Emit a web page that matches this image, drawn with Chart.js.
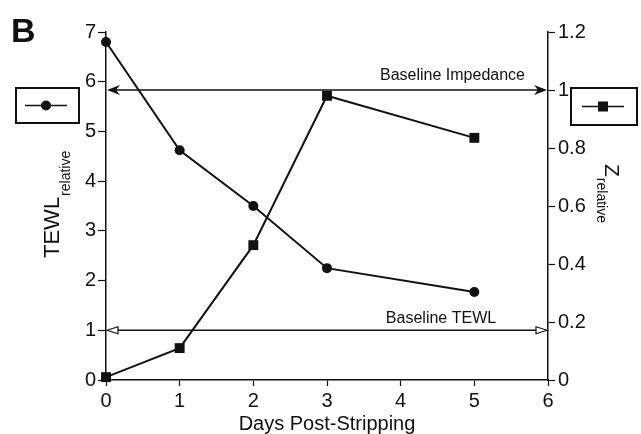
<!DOCTYPE html>
<html>
<head>
<meta charset="utf-8">
<script src="https://cdn.jsdelivr.net/npm/chart.js@4"></script>
<style>
  html, body { margin: 0; padding: 0; background: #fff; }
  #wrap { width: 641px; height: 434px; }
</style>
</head>
<body>
<div id="wrap"><canvas id="chart" width="641" height="434"></canvas></div>
<script>
// data
const days = [0, 1, 2, 3, 5];
const tewlRel = [6.8, 4.62, 3.5, 2.25, 1.77];
const zRel = [0.01, 0.11, 0.465, 0.98, 0.835];
const zTickLabels = ["0", "0.2", "0.4", "0.6", "0.8", "1", "1.2"];
const baselineTewl = 1;
const baselineZ = 1;

const FONT = "'Liberation Sans', Arial, Helvetica, sans-serif";
const INK = "#111";

const pts = (ys) => days.map((d, i) => ({ x: d, y: ys[i] }));

function arrowBarb(ctx, x, y, dir){
  // filled barbed arrow head, tip at x, pointing dir (-1 left, +1 right)
  ctx.beginPath();
  ctx.moveTo(x, y);
  ctx.lineTo(x - dir * 13, y - 5);
  ctx.lineTo(x - dir * 9, y);
  ctx.lineTo(x - dir * 13, y + 5);
  ctx.closePath();
  ctx.fill();
}

function arrowOpen(ctx, x, y, dir){
  ctx.beginPath();
  ctx.moveTo(x, y);
  ctx.lineTo(x - dir * 11, y - 3.5);
  ctx.lineTo(x - dir * 11, y + 3.5);
  ctx.closePath();
  ctx.fillStyle = "#fff";
  ctx.fill();
  ctx.stroke();
}

const extras = {
  id: "extras",
  beforeDatasetsDraw(chart){
    const { ctx, scales } = chart;
    const x0 = scales.x.getPixelForValue(0);
    const x6 = scales.x.getPixelForValue(6);
    ctx.save();
    ctx.strokeStyle = INK;
    ctx.fillStyle = INK;
    ctx.lineWidth = 1.5;

    // Baseline impedance (right axis)
    const yz = scales.y1.getPixelForValue(baselineZ);
    ctx.beginPath();
    ctx.moveTo(x0 + 8, yz);
    ctx.lineTo(x6 - 8, yz);
    ctx.stroke();
    arrowBarb(ctx, x0 + 1, yz, -1);
    arrowBarb(ctx, x6 - 1, yz, 1);

    // Baseline TEWL (left axis)
    const yt = scales.y.getPixelForValue(baselineTewl);
    ctx.beginPath();
    ctx.moveTo(x0 + 12, yt);
    ctx.lineTo(x6 - 12, yt);
    ctx.stroke();
    ctx.lineWidth = 1.2;
    arrowOpen(ctx, x0 + 1, yt, -1);
    arrowOpen(ctx, x6 - 1, yt, 1);

    ctx.fillStyle = INK;
    ctx.font = "16px " + FONT;
    ctx.textBaseline = "alphabetic";
    ctx.textAlign = "right";
    ctx.fillText("Baseline Impedance", 525, 80);
    ctx.textAlign = "center";
    ctx.fillText("Baseline TEWL", 441, 323);
    ctx.restore();
  },
  afterDraw(chart){
    const { ctx } = chart;
    ctx.save();
    ctx.fillStyle = INK;
    ctx.strokeStyle = INK;

    // panel letter
    ctx.font = "bold 34px " + FONT;
    ctx.textAlign = "left";
    ctx.textBaseline = "alphabetic";
    ctx.fillText("B", 11, 42);

    // legend boxes
    ctx.lineWidth = 2;
    ctx.strokeRect(16, 88, 63, 35);
    ctx.strokeRect(571, 88, 66, 37);
    ctx.lineWidth = 1.5;
    ctx.beginPath();
    ctx.moveTo(25, 105.5); ctx.lineTo(67, 105.5);
    ctx.moveTo(582, 106.5); ctx.lineTo(624, 106.5);
    ctx.stroke();
    ctx.beginPath();
    ctx.arc(46, 105.5, 5, 0, Math.PI * 2);
    ctx.fill();
    ctx.fillRect(598, 101.5, 10, 10);

    // left axis title
    ctx.save();
    ctx.translate(59, 258);
    ctx.rotate(-Math.PI / 2);
    ctx.font = "22px " + FONT;
    ctx.fillText("TEWL", 0, 0);
    const wT = ctx.measureText("TEWL").width;
    ctx.font = "14px " + FONT;
    ctx.fillText("relative", wT + 1, 11);
    ctx.restore();

    // right axis title
    ctx.save();
    ctx.translate(605, 164);
    ctx.rotate(Math.PI / 2);
    ctx.font = "21px " + FONT;
    ctx.fillText("Z", 0, 0);
    const wZ = ctx.measureText("Z").width;
    ctx.font = "14px " + FONT;
    ctx.fillText("relative", wZ + 1, 8);
    ctx.restore();

    // x axis title
    ctx.font = "20px " + FONT;
    ctx.textAlign = "center";
    ctx.fillText("Days Post-Stripping", 327, 430);
    ctx.restore();
  }
};

const tickFont = { family: FONT, size: 20 };

new Chart(document.getElementById("chart"), {
  type: "line",
  data: {
    datasets: [
      {
        label: "TEWL",
        data: pts(tewlRel),
        yAxisID: "y",
        borderColor: INK,
        backgroundColor: INK,
        borderWidth: 2,
        pointStyle: "circle",
        pointRadius: 5,
        pointBackgroundColor: INK,
        pointBorderWidth: 0,
        tension: 0,
        clip: false
      },
      {
        label: "Z",
        data: pts(zRel),
        yAxisID: "y1",
        borderColor: INK,
        backgroundColor: INK,
        borderWidth: 2,
        pointStyle: "rect",
        pointRadius: 7,
        pointBackgroundColor: INK,
        pointBorderWidth: 0,
        tension: 0,
        clip: false
      }
    ]
  },
  options: {
    responsive: false,
    animation: false,
    devicePixelRatio: 1,
    layout: { padding: { top: 32, left: 0, right: 0, bottom: 0 } },
    plugins: { legend: { display: false }, tooltip: { enabled: false } },
    scales: {
      x: {
        type: "linear",
        min: 0, max: 6,
        ticks: { stepSize: 1, color: INK, font: tickFont, padding: 3 },
        grid: { drawOnChartArea: false, color: INK, tickLength: 6, tickWidth: 1.2 },
        border: { color: INK, width: 1.5 },
        afterFit(s){ s.height = 54; }
      },
      y: {
        position: "left",
        min: 0, max: 7,
        ticks: { stepSize: 1, color: INK, font: tickFont, padding: 2 },
        grid: { drawOnChartArea: false, color: INK, tickLength: 8, tickWidth: 1.2 },
        border: { color: INK, width: 1.5 },
        afterFit(s){ s.width = 106; }
      },
      y1: {
        position: "right",
        min: 0, max: 1.2,
        ticks: {
          stepSize: 0.2, color: INK, font: tickFont, padding: 3,
          callback: (v, i) => zTickLabels[i]
        },
        grid: { drawOnChartArea: false, color: INK, tickLength: 7, tickWidth: 1.2 },
        border: { color: INK, width: 1.5 },
        afterFit(s){ s.width = 93; }
      }
    }
  },
  plugins: [extras]
});
</script>
</body>
</html>
